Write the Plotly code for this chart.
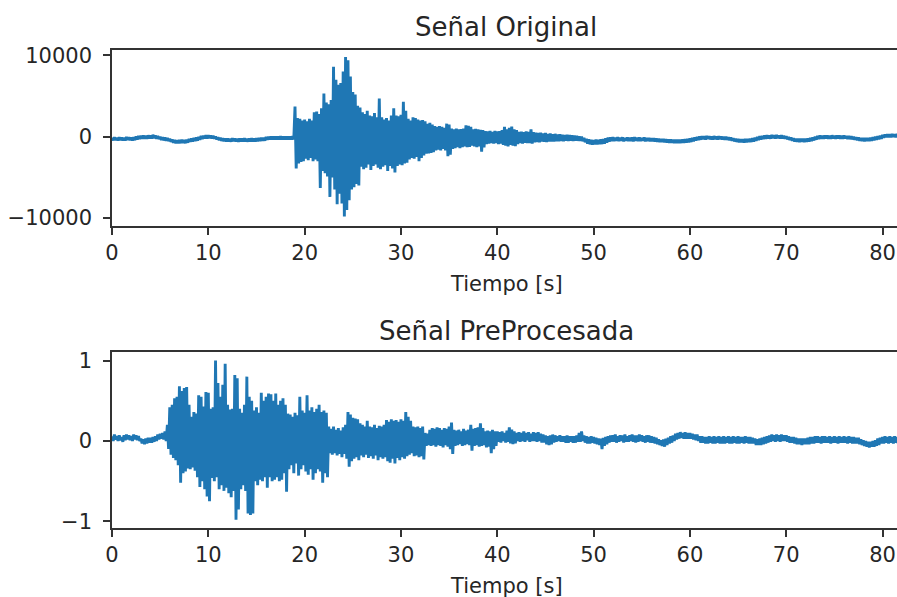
import plotly.graph_objects as go

# Sampling step of the envelope readings (seconds); each step holds a
# positive excursion followed by a negative one half a step later.
DT = 0.25

# "Señal Original" (counts): upper / lower excursions per step, t = 0 ... 81.75 s
orig_hi = [
    -120, -90, -140, -60, -110, -130, -40, -90, -110, -60, 40, 70, 110, 140, 120, 160,
    150, 230, 140, 90, 0, -60, -120, -150, -260, -350, -420, -430, -400, -390, -410, -370,
    -270, -230, -170, -110, -20, 90, 130, 170, 190, 160, 120, 30, -70, -140, -200, -230,
    -220, -250, -200, -230, -260, -230, -210, -200, -250, -230, -210, -240, -200, -170, -140, -120,
    -30, 0, 30, 10, 20, 30, 40, 20, 30, 10, 20, 40, 3700, 2300, 2200, 2000,
    2100, 1900, 2200, 2000, 3000, 3100, 2800, 3500, 5300, 4200, 4000, 4500, 8600, 7000, 6400, 6600,
    8000, 9800, 9400, 7400, 5500, 5200, 3800, 3600, 3000, 2800, 3200, 2600, 2500, 2900, 2400, 4700,
    2400, 2100, 2300, 2000, 2600, 3500, 2600, 2500, 2700, 4300, 3200, 2200, 2000, 2400, 2300, 2100,
    2000, 2050, 1900, 1600, 1700, 1500, 1300, 1200, 1300, 1200, 1100, 1600, 1500, 1000, 900, 1000,
    900, 950, 1000, 1400, 1350, 1200, 900, 950, 900, 850, 800, 700, 650, 700, 600, 700,
    650, 700, 800, 1200, 900, 1100, 1250, 900, 800, 600, 620, 550, 650, 600, 900, 550,
    500, 450, 500, 400, 450, 350, 400, 300, 350, 280, 300, 250, 220, 250, 200, 180,
    150, 100, 50, 0, -150, -280, -340, -380, -420, -350, -380, -330, -290, -200, -120, -80,
    -60, -120, -50, -130, -80, -160, -90, -140, -100, -70, -140, -110, -160, -100, -150, -170,
    -180, -200, -230, -250, -270, -290, -310, -340, -360, -370, -380, -370, -360, -340, -310, -280,
    -230, -160, -80, -20, 30, 60, 40, 80, 50, 20, 70, 10, 60, 30, -10, -20,
    -60, -120, -200, -260, -290, -310, -300, -290, -270, -250, -200, -120, -30, 50, 100, 150,
    180, 130, 220, 160, 200, 140, 190, 110, 60, -30, -120, -200, -250, -260, -240, -270,
    -250, -210, -160, -80, 10, 80, 140, 110, 150, 130, 100, 160, 110, 150, 130, 100,
    140, 90, 80, 40, 0, -60, -120, -160, -180, -160, -150, -120, -80, -10, 60, 110,
    200, 260, 300, 280, 320, 300, 330, 310,
]
orig_lo = [
    -440, -420, -470, -430, -450, -460, -400, -430, -460, -420, -330, -290, -260, -230, -250, -200,
    -230, -160, -250, -290, -390, -440, -480, -530, -630, -740, -790, -800, -790, -770, -790, -730,
    -630, -580, -530, -490, -380, -290, -230, -210, -190, -220, -240, -330, -430, -500, -560, -580,
    -580, -600, -560, -580, -610, -590, -580, -560, -600, -580, -570, -590, -560, -530, -500, -480,
    -370, -350, -330, -350, -340, -330, -320, -340, -330, -350, -340, -330, -3900, -3300, -3100, -3000,
    -2700, -2900, -2600, -3000, -2800, -3000, -6300, -4200, -4500, -4900, -7400, -5000, -6500, -8300, -7000, -8200,
    -9800, -9000, -7800, -6500, -6200, -5800, -6000, -3700, -4000, -3800, -3400, -4100, -3600, -3400, -3800, -4000,
    -3700, -3500, -4200, -3600, -3900, -4400, -3600, -3400, -3500, -3300, -3200, -2800, -2600, -2700, -2500, -3000,
    -2600, -2300, -2100, -2050, -2000, -1900, -1700, -1600, -1700, -1500, -1700, -2400, -2200, -1500, -1400, -1300,
    -1400, -1300, -1200, -1300, -1250, -1100, -1200, -1300, -1200, -1850, -1300, -900, -850, -800, -850, -800,
    -900, -850, -1000, -1100, -1200, -1000, -1100, -1150, -900, -800, -850, -750, -800, -780, -850, -700,
    -650, -700, -600, -620, -650, -600, -580, -600, -550, -560, -520, -550, -500, -520, -500, -520,
    -480, -500, -520, -560, -680, -850, -930, -980, -950, -960, -920, -900, -850, -720, -600, -550,
    -520, -480, -540, -500, -560, -490, -530, -520, -560, -480, -510, -540, -500, -560, -520, -540,
    -560, -590, -610, -640, -660, -680, -700, -730, -750, -770, -780, -770, -760, -740, -720, -680,
    -640, -560, -480, -420, -360, -300, -340, -280, -320, -350, -280, -340, -290, -330, -360, -380,
    -420, -480, -560, -630, -670, -690, -700, -680, -660, -640, -590, -500, -420, -340, -290, -250,
    -200, -240, -170, -220, -180, -230, -190, -250, -310, -390, -480, -580, -620, -640, -620, -650,
    -620, -590, -540, -450, -360, -290, -230, -260, -210, -240, -260, -200, -250, -220, -240, -260,
    -220, -270, -290, -320, -360, -420, -480, -530, -550, -530, -520, -490, -440, -370, -300, -250,
    -120, -60, -40, -60, -20, -50, -30, -40,
]

# "Señal PreProcesada" (normalised): upper / lower excursions per step
proc_hi = [
    0.06, 0.08, 0.06, 0.07, 0.05, 0.07, 0.08, 0.07, 0.06, 0.08, 0.07, 0.06, 0.03, 0.02, 0.03, 0.04,
    0.04, 0.05, 0.06, 0.08, 0.09, 0.10, 0.12, 0.20, 0.42, 0.45, 0.53, 0.55, 0.68, 0.62, 0.66, 0.67,
    0.45, 0.30, 0.36, 0.34, 0.57, 0.55, 0.43, 0.61, 0.60, 0.40, 0.42, 1.00, 0.72, 0.55, 0.70, 0.96,
    0.45, 0.39, 0.40, 0.82, 0.78, 0.40, 0.35, 0.45, 0.80, 0.55, 0.50, 0.38, 0.42, 0.35, 0.60, 0.50,
    0.55, 0.59, 0.58, 0.50, 0.59, 0.45, 0.50, 0.53, 0.45, 0.34, 0.33, 0.30, 0.35, 0.32, 0.55, 0.38,
    0.35, 0.57, 0.38, 0.42, 0.36, 0.40, 0.45, 0.36, 0.38, 0.35, 0.18, 0.15, 0.18, 0.14, 0.16, 0.13,
    0.17, 0.20, 0.36, 0.33, 0.29, 0.28, 0.27, 0.22, 0.20, 0.18, 0.25, 0.18, 0.17, 0.20, 0.16, 0.19,
    0.18, 0.20, 0.26, 0.24, 0.27, 0.25, 0.26, 0.24, 0.27, 0.25, 0.36, 0.30, 0.25, 0.18, 0.17, 0.18,
    0.16, 0.18, 0.10, 0.09, 0.14, 0.16, 0.15, 0.17, 0.16, 0.14, 0.16, 0.15, 0.18, 0.23, 0.14, 0.13,
    0.14, 0.12, 0.15, 0.13, 0.14, 0.20, 0.15, 0.16, 0.17, 0.22, 0.16, 0.12, 0.13, 0.12, 0.14, 0.12,
    0.12, 0.11, 0.12, 0.10, 0.13, 0.17, 0.14, 0.12, 0.10, 0.11, 0.10, 0.12, 0.10, 0.11, 0.09, 0.11,
    0.10, 0.11, 0.09, 0.08, 0.07, 0.06, 0.07, 0.08, 0.07, 0.06, 0.07, 0.06, 0.06, 0.07, 0.06, 0.06,
    0.06, 0.07, 0.10, 0.12, 0.07, 0.06, 0.05, 0.06, 0.05, 0.04, 0.03, 0.03, 0.04, 0.05, 0.06, 0.07,
    0.07, 0.08, 0.06, 0.07, 0.07, 0.08, 0.06, 0.07, 0.08, 0.07, 0.07, 0.08, 0.07, 0.06, 0.07, 0.07,
    0.06, 0.05, 0.04, 0.02, 0.01, 0.02, 0.03, 0.04, 0.06, 0.07, 0.09, 0.10, 0.11, 0.10, 0.11, 0.10,
    0.10, 0.09, 0.08, 0.08, 0.06, 0.06, 0.05, 0.05, 0.06, 0.05, 0.06, 0.05, 0.06, 0.05, 0.06, 0.05,
    0.06, 0.05, 0.06, 0.05, 0.06, 0.05, 0.05, 0.06, 0.05, 0.05, 0.04, 0.03, 0.02, 0.03, 0.04, 0.05,
    0.06, 0.07, 0.08, 0.07, 0.08, 0.07, 0.08, 0.07, 0.07, 0.06, 0.05, 0.05, 0.04, 0.03, 0.03, 0.03,
    0.03, 0.04, 0.05, 0.05, 0.06, 0.06, 0.05, 0.06, 0.06, 0.05, 0.06, 0.05, 0.06, 0.05, 0.06, 0.05,
    0.06, 0.05, 0.06, 0.05, 0.05, 0.04, 0.04, 0.02, 0.01, 0.00, -0.01, -0.01, 0.00, 0.01, 0.03, 0.04,
    0.05, 0.06, 0.05, 0.06, 0.05, 0.06, 0.05, 0.06,
]
proc_lo = [
    0.00, 0.02, 0.00, 0.01, -0.01, 0.01, 0.02, 0.01, 0.00, 0.02, 0.01, 0.00, -0.03, -0.04, -0.03, -0.02,
    -0.02, -0.01, 0.00, 0.02, 0.03, 0.02, 0.00, -0.10, -0.17, -0.21, -0.24, -0.30, -0.52, -0.40, -0.38, -0.34,
    -0.35, -0.33, -0.37, -0.45, -0.57, -0.50, -0.60, -0.69, -0.75, -0.46, -0.50, -0.45, -0.60, -0.55, -0.62, -0.58,
    -0.65, -0.70, -0.62, -0.98, -0.85, -0.60, -0.55, -0.62, -0.90, -0.92, -0.90, -0.50, -0.55, -0.48, -0.50, -0.45,
    -0.58, -0.45, -0.50, -0.48, -0.45, -0.50, -0.48, -0.40, -0.63, -0.35, -0.30, -0.40, -0.28, -0.43, -0.35, -0.30,
    -0.38, -0.42, -0.35, -0.48, -0.40, -0.35, -0.38, -0.52, -0.40, -0.45, -0.15, -0.17, -0.15, -0.18, -0.16, -0.20,
    -0.16, -0.22, -0.32, -0.25, -0.22, -0.20, -0.24, -0.18, -0.20, -0.17, -0.21, -0.19, -0.22, -0.18, -0.24, -0.20,
    -0.22, -0.20, -0.25, -0.27, -0.22, -0.28, -0.21, -0.24, -0.20, -0.22, -0.19, -0.17, -0.15, -0.19, -0.18, -0.20,
    -0.19, -0.23, -0.06, -0.05, -0.06, -0.05, -0.07, -0.05, -0.06, -0.08, -0.05, -0.07, -0.10, -0.16, -0.06, -0.05,
    -0.04, -0.06, -0.05, -0.04, -0.05, -0.12, -0.06, -0.05, -0.07, -0.06, -0.05, -0.08, -0.07, -0.15, -0.10, -0.06,
    -0.01, -0.02, 0.00, -0.02, -0.01, -0.03, -0.04, -0.03, 0.00, -0.01, 0.00, -0.01, 0.01, -0.01, 0.00, 0.00,
    -0.01, 0.00, -0.02, -0.02, -0.04, -0.05, -0.04, -0.02, -0.01, 0.00, -0.01, -0.01, -0.02, -0.02, -0.01, -0.02,
    -0.02, -0.01, -0.01, 0.00, -0.02, -0.03, -0.03, -0.02, -0.03, -0.04, -0.05, -0.10, -0.06, -0.04, -0.02, -0.01,
    -0.01, -0.02, -0.01, 0.00, -0.02, -0.01, -0.01, 0.00, -0.01, -0.02, -0.01, 0.00, -0.01, -0.02, -0.01, -0.02,
    -0.02, -0.03, -0.04, -0.05, -0.06, -0.07, -0.05, -0.03, -0.02, 0.00, 0.02, 0.03, 0.04, 0.03, 0.03, 0.03,
    0.03, 0.02, 0.01, 0.00, -0.02, -0.02, -0.03, -0.03, -0.02, -0.03, -0.03, -0.02, -0.03, -0.03, -0.03, -0.02,
    -0.03, -0.03, -0.02, -0.03, -0.03, -0.02, -0.03, -0.02, -0.03, -0.03, -0.03, -0.05, -0.05, -0.05, -0.04, -0.03,
    -0.02, -0.01, 0.00, -0.01, 0.00, -0.01, 0.00, 0.00, -0.01, -0.02, -0.02, -0.03, -0.04, -0.04, -0.05, -0.04,
    -0.04, -0.04, -0.03, -0.03, -0.02, -0.02, -0.03, -0.02, -0.02, -0.02, -0.03, -0.02, -0.02, -0.03, -0.02, -0.02,
    -0.02, -0.03, -0.02, -0.03, -0.03, -0.03, -0.04, -0.05, -0.06, -0.07, -0.08, -0.07, -0.07, -0.06, -0.05, -0.03,
    -0.03, -0.02, -0.03, -0.02, -0.03, -0.02, -0.03, -0.02,
]

x_ticks = [0, 10, 20, 30, 40, 50, 60, 70, 80]
orig_ticks = [-10000, 0, 10000]
orig_ticktext = ["\u221210000", "0", "10000"]
proc_ticks = [-1, 0, 1]
proc_ticktext = ["\u22121", "0", "1"]

titles = ["Señal Original", "Señal PreProcesada"]
x_label = "Tiempo [s]"

for arr in (orig_hi, orig_lo, proc_hi, proc_lo):
    assert len(arr) == 328, len(arr)


def zigzag(hi, lo):
    """Interleave the positive and negative excursions into one time series."""
    t, v = [], []
    for i, (a, b) in enumerate(zip(hi, lo)):
        t += [i * DT, i * DT + DT / 2]
        v += [a, b]
    return t, v


W, H = 897, 597
LINE = "#1f77b4"
INK = "#262626"
FONT = "DejaVu Sans"

x0 = 112 / W
top_dom = [1 - 226 / H, 1 - 50 / H]
bot_dom = [1 - 528.3 / H, 1 - 351.7 / H]

fig = go.Figure()
t1, v1 = zigzag(orig_hi, orig_lo)
t2, v2 = zigzag(proc_hi, proc_lo)
fig.add_trace(go.Scatter(x=t1, y=v1, mode="lines", line=dict(color=LINE, width=2.9),
                         xaxis="x", yaxis="y", showlegend=False, hoverinfo="skip"))
fig.add_trace(go.Scatter(x=t2, y=v2, mode="lines", line=dict(color=LINE, width=2.9),
                         xaxis="x2", yaxis="y2", showlegend=False, hoverinfo="skip"))

axis_common = dict(
    showgrid=False, zeroline=False, showline=True, linecolor="#333333", linewidth=1.6,
    ticks="outside", ticklen=7, tickwidth=1.6, tickcolor="#333333", automargin=False,
    tickfont=dict(family=FONT, size=21, color=INK),
)

fig.update_layout(
    width=W, height=H,
    margin=dict(l=0, r=0, t=0, b=0, pad=0),
    paper_bgcolor="white", plot_bgcolor="white",
    xaxis=dict(domain=[x0, 1], anchor="y", range=[0, 81.5], tickvals=x_ticks,
               mirror=True, **axis_common),
    yaxis=dict(domain=top_dom, anchor="x", range=[-10980, 10660], tickvals=orig_ticks,
               ticktext=orig_ticktext, mirror=False, ticklabelstandoff=7, **axis_common),
    xaxis2=dict(domain=[x0, 1], anchor="y2", range=[0, 81.5], tickvals=x_ticks,
                mirror=True, **axis_common),
    yaxis2=dict(domain=bot_dom, anchor="x2", range=[-1.085, 1.11], tickvals=proc_ticks,
                ticktext=proc_ticktext, mirror=False, ticklabelstandoff=7, **axis_common),
)

cx = 506 / W
for text, yc in ((titles[0], 27.5), (titles[1], 331)):
    fig.add_annotation(text=text, xref="paper", yref="paper", x=cx, y=1 - yc / H,
                       xanchor="center", yanchor="middle", showarrow=False,
                       font=dict(family=FONT, size=26, color=INK))
for yc in (284, 586):
    fig.add_annotation(text=x_label, xref="paper", yref="paper", x=cx, y=1 - yc / H,
                       xanchor="center", yanchor="middle", showarrow=False,
                       font=dict(family=FONT, size=21, color=INK))

fig.write_html("out.html")
